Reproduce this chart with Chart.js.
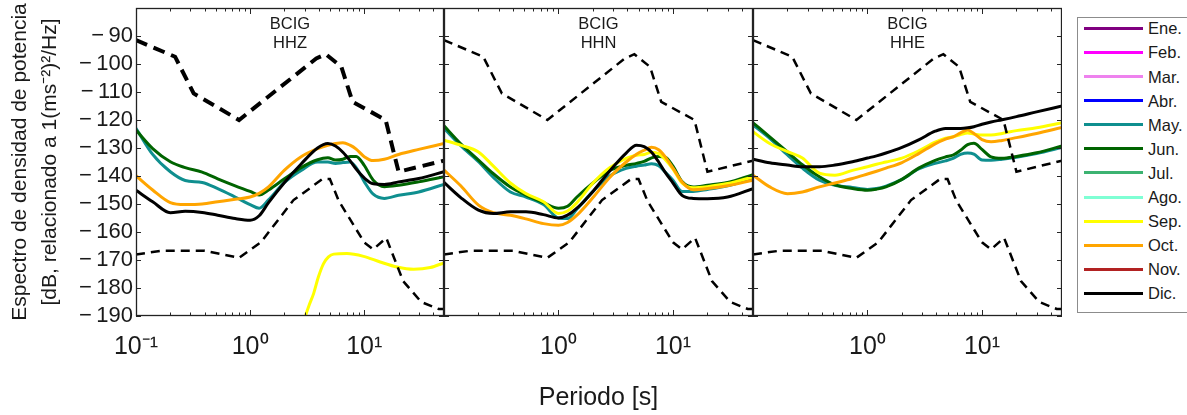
<!DOCTYPE html>
<html><head><meta charset="utf-8">
<script src="https://cdn.jsdelivr.net/npm/chart.js@4.4.1/dist/chart.umd.min.js"></script>
<style>
html,body{margin:0;padding:0;background:#fff;width:1187px;height:415px;overflow:hidden;position:relative;font-family:"Liberation Sans",Arial,sans-serif;}
canvas{position:absolute;top:0;}
#legend{position:absolute;left:1077px;top:17px;width:140px;height:296px;border:1px solid #8c8c8c;box-sizing:border-box;background:#fff;}
.item{position:absolute;left:0;height:24px;width:140px;}
.sw{position:absolute;left:6px;top:10.5px;width:59px;height:3px;}
.lb{position:absolute;left:70px;top:0;line-height:24px;font-size:16.5px;color:#1a1a1a;}
</style></head><body>
<canvas id="c1" width="444" height="415" style="left:0"></canvas>
<canvas id="c2" width="309" height="415" style="left:444px"></canvas>
<canvas id="c3" width="309" height="415" style="left:753px"></canvas>
<div id="legend"></div>
<script>
// ---------- data ----------
const months = ['Ene.','Feb.','Mar.','Abr.','May.','Jun.','Jul.','Ago.','Sep.','Oct.','Nov.','Dic.'];
const monthColors = ['#800080','#ff00ff','#ee82ee','#0000ff','#0f8f8f','#006400','#3cb371','#7fffd4','#ffff00','#ffa500','#b22222','#000000'];

const periods = [0.1, 0.14, 0.2, 0.27, 0.38, 0.52, 0.74, 1.0, 1.2, 1.45, 2.0, 2.8, 3.9, 4.8, 5.6, 6.5, 7.5, 8.5, 10, 12, 15, 20, 30, 50];

// HHZ
const hhzMay = [-123, -132.3, -138.5, -141.6, -142.3, -144.5, -147.5, -150.2, -151.5, -148.5, -142.3, -138, -135, -135, -135.5, -135.2, -135, -137, -142, -146.5, -148, -146.9, -145.7, -143];
const hhzJun = [-123.6, -130.2, -134.9, -137, -138.6, -141, -143.5, -145.5, -146.8, -145, -141, -137, -134.2, -133.5, -134.3, -134, -133, -133, -136.2, -141.5, -143.8, -143.3, -142.1, -140.3];
const hhzSepPeriods = [2.9, 3.03, 3.3, 3.6, 3.97, 4.4, 4.86, 5.4, 7.05, 9.87, 13.8, 19.4, 27.1, 37.9, 50];
const hhzSep = [-193, -190.4, -186, -182, -176, -171.3, -168.9, -167.9, -167.7, -168.7, -170.7, -172.5, -173.3, -172.7, -171];
const hhzOct = [-139.9, -145, -149.5, -150.2, -150, -149.2, -148.3, -147.5, -146.2, -143.9, -137.9, -133.1, -130.2, -129, -128.4, -128.1, -129, -130.4, -133.1, -134.5, -134, -132.3, -130.5, -128.4];
const hhzDic = [-145.1, -149.2, -153.1, -152.6, -153, -154, -155.2, -155.8, -154.2, -149.5, -142.3, -135.7, -130, -128.4, -129.3, -131.5, -134.5, -137.5, -140.7, -142.8, -143, -142.1, -140.9, -138.5];

// HHN
const hhnMay = [-123, -129.2, -134.9, -140.5, -145.7, -147.5, -150.2, -155, -155.2, -151.8, -145.5, -140, -137.3, -136.5, -136.1, -135.6, -136.3, -138.5, -141.5, -145.5, -145.5, -144.8, -143.5, -140.9];
const hhnJun = [-122.1, -128.5, -134.3, -139.2, -143.9, -146.8, -149.5, -151.5, -150.8, -147.5, -142.5, -138, -136.2, -135.5, -134.8, -133.5, -133, -133.2, -136.5, -142, -143.9, -143.3, -142.3, -139.5];
const hhnSep = [-127.2, -129, -131.4, -136.5, -142.5, -146.3, -149.2, -153.4, -152.5, -149.5, -142.5, -137, -133.7, -132.6, -132.3, -131.5, -132, -134, -137.5, -142.5, -144.2, -143.8, -142.7, -140.3];
const hhnOct = [-137.9, -143.5, -150.4, -153.1, -154, -155.3, -157, -157.6, -156.6, -154, -147.7, -140.5, -135, -132.2, -130.8, -129.7, -130.6, -133, -137.2, -142.1, -144.9, -144.5, -143.5, -141.5];
const hhnDic = [-142.3, -147.7, -152.2, -153.4, -152.8, -152.8, -153.8, -155, -154, -151.5, -145.5, -138.2, -131.8, -129, -129.5, -131.5, -135, -138.5, -142.5, -146.9, -148, -148.1, -147.5, -144.5];

// HHE
const hheMay = [-121.8, -126.6, -132.5, -137.2, -141.5, -143.3, -144.1, -144.8, -144.5, -143.6, -141.2, -137.5, -135.5, -134.6, -133.7, -132.3, -131.8, -132.2, -134.3, -134.4, -134, -133.3, -132, -129.8];
const hheJun = [-121, -126, -131.4, -136, -140.3, -143.2, -144.5, -145.1, -144.7, -143.9, -141.2, -137.2, -134.4, -133.2, -132.5, -130.8, -128.8, -128.3, -130.5, -133.2, -133.7, -133, -131.7, -129.3];
const hheSep = [-124.2, -128.4, -131.3, -133.6, -139, -139.7, -138, -136.7, -135.8, -135, -133.6, -131, -127.9, -126.5, -126, -125.2, -124.6, -125, -125.4, -125.4, -124.8, -123.8, -122.8, -121];
const hheOct = [-139.7, -143.9, -146.3, -145.7, -143.9, -142.5, -140.9, -139.3, -138.3, -137.2, -135.2, -132, -128.5, -126.8, -126, -124.6, -123.6, -124.8, -127, -127.8, -127.3, -126.3, -124.8, -122.7];
const hheDic = [-134, -135.3, -136.1, -136.7, -136.7, -136.1, -134.9, -133.6, -132.8, -131.8, -129.8, -127.1, -124, -123, -123, -123, -122.8, -122.4, -121.5, -120.7, -119.9, -118.8, -117.1, -115];

// Noise models (upper / lower)
const nhnmPeriods = [0.1, 0.22, 0.32, 0.8, 3.8, 4.6, 6.3, 7.9, 15.4, 20, 50];
const nhnmValues = [-91.5, -97.4, -110.5, -120.0, -98.0, -96.5, -101.0, -113.5, -120.0, -138.5, -134.5];
const nlnmPeriods = [0.1, 0.17, 0.4, 0.8, 1.24, 2.4, 4.3, 5.0, 6.0, 10, 12, 15.6, 21.9, 31.6, 45, 50];
const nlnmValues = [-168.0, -166.7, -166.7, -169.2, -163.7, -148.6, -141.1, -141.1, -149.0, -163.7, -166.2, -162.1, -177.5, -185.0, -187.5, -187.5];

const xTickValues = [0.1, 1, 10];
const xTickLabels = ['10\u207B\u00B9', '10\u2070', '10\u00B9'];
const yTickValues = [-90, -100, -110, -120, -130, -140, -150, -160, -170, -180, -190];
const panelTitles = [['BCIG','HHZ'], ['BCIG','HHN'], ['BCIG','HHE']];
const yTitle = ['Espectro de densidad de potencia', '[dB, relacionado a 1(ms\u207B\u00B2)\u00B2/Hz]'];
const xTitle = 'Periodo [s]';

// ---------- helpers ----------
const FONT = '"Liberation Sans", Arial, sans-serif';
const TXT = '#1a1a1a';
const zip = (xs, ys) => xs.map((x, i) => ({x, y: ys[i]}));
const colorOf = m => monthColors[months.indexOf(m)];

function monthSet(label, xs, ys, order) {
  return {label, data: zip(xs, ys), borderColor: colorOf(label), backgroundColor: colorOf(label),
    borderWidth: 3, pointRadius: 0, cubicInterpolationMode: 'monotone', clip: 0, order, fill: false};
}
function modelSet(label, xs, ys, width, dash) {
  return {label, data: zip(xs, ys), borderColor: '#000', borderWidth: width, borderDash: dash,
    pointRadius: 0, tension: 0, clip: 0, order: 0, fill: false};
}

const framePlugin = {
  id: 'frame',
  afterDatasetsDraw(chart, args, opts) {
    const {ctx, chartArea: a, scales: {x, y}} = chart;
    ctx.save();
    ctx.strokeStyle = '#262626';
    ctx.lineWidth = 1;
    ctx.beginPath();
    for (let d = 0.1; d < 100; d *= 10) {
      for (let m = 1; m < 10; m++) {
        const v = d * m;
        if (v < x.min * 0.999 || v > x.max * 1.001) continue;
        const px = Math.round(x.getPixelForValue(v)) + 0.5;
        const len = m === 1 ? 6 : 3.5;
        ctx.moveTo(px, a.bottom); ctx.lineTo(px, a.bottom - len);
        ctx.moveTo(px, a.top); ctx.lineTo(px, a.top + len);
      }
    }
    for (let v = y.min; v <= y.max; v += 10) {
      const py = Math.round(y.getPixelForValue(v)) + 0.5;
      ctx.moveTo(a.left, py); ctx.lineTo(a.left + 5, py);
      ctx.moveTo(a.right, py); ctx.lineTo(a.right - 5, py);
    }
    ctx.stroke();
    ctx.lineWidth = 1.3;
    ctx.strokeStyle = '#222';
    ctx.strokeRect(a.left + 0.5, a.top + 0.5, a.width - 1, a.height - 1);
    ctx.fillStyle = TXT;
    ctx.font = '16.5px ' + FONT;
    ctx.textAlign = 'center';
    ctx.textBaseline = 'middle';
    const cx = (a.left + a.right) / 2;
    opts.lines.forEach((t, i) => ctx.fillText(t, cx, a.top + 16 + i * 19));
    ctx.restore();
  }
};

function makePanel(id, idx, sets, showY) {
  const ticks = idx === 0 ? xTickValues : xTickValues.slice(1);
  return new Chart(document.getElementById(id), {
    type: 'line',
    data: {datasets: sets},
    plugins: [framePlugin],
    options: {
      responsive: false, animation: false, events: [],
      layout: {padding: {top: 8, left: 0, right: 0, bottom: 0}},
      plugins: {legend: {display: false}, tooltip: {enabled: false}, frame: {lines: panelTitles[idx]}},
      scales: {
        x: {
          type: 'logarithmic', min: 0.1, max: 50,
          afterBuildTicks: s => { s.ticks = ticks.map(v => ({value: v})); },
          afterFit: s => { s.height = 99; s.paddingLeft = 0; s.paddingRight = 0; },
          grid: {display: false, drawTicks: false}, border: {display: false},
          ticks: {font: {family: FONT, size: 25}, color: TXT, padding: 16, maxRotation: 0, autoSkip: false,
            callback: v => xTickLabels[xTickValues.indexOf(v)]},
          title: {display: idx === 1, text: xTitle, color: TXT, font: {family: FONT, size: 25}, padding: {top: 0, bottom: 2}}
        },
        y: {
          display: showY, min: -190, max: -80,
          afterBuildTicks: s => { s.ticks = yTickValues.map(v => ({value: v})); },
          afterFit: s => { if (showY) s.width = 136; s.paddingTop = 0; s.paddingBottom = 0; },
          grid: {display: false, drawTicks: false}, border: {display: false},
          ticks: {font: {family: FONT, size: 22}, color: TXT, padding: 3, callback: v => '\u2212\u2009' + Math.abs(v)},
          title: {display: showY, text: yTitle, color: TXT, font: {family: FONT, size: 21, lineHeight: 1.45}, padding: {top: 5, bottom: 0}}
        }
      }
    }
  });
}

function panelSets(may, jun, sep, sepX, oct, dic, hiWidth, hiDash) {
  return [
    modelSet('NHNM', nhnmPeriods, nhnmValues, hiWidth, hiDash),
    modelSet('NLNM', nlnmPeriods, nlnmValues, 2.5, [9, 6]),
    monthSet('Dic.', periods, dic, 1),
    monthSet('Oct.', periods, oct, 2),
    monthSet('Sep.', sepX, sep, 3),
    monthSet('Jun.', periods, jun, 4),
    monthSet('May.', periods, may, 5)
  ];
}

makePanel('c1', 0, panelSets(hhzMay, hhzJun, hhzSep, hhzSepPeriods, hhzOct, hhzDic, 4, [12, 7]), true);
makePanel('c2', 1, panelSets(hhnMay, hhnJun, hhnSep, periods, hhnOct, hhnDic, 2.5, [9, 6]), false);
makePanel('c3', 2, panelSets(hheMay, hheJun, hheSep, periods, hheOct, hheDic, 2.5, [9, 6]), false);

// legend
const lg = document.getElementById('legend');
months.forEach((m, i) => {
  const row = document.createElement('div');
  row.className = 'item';
  row.style.top = (-1.7 + i * 24.1) + 'px';
  row.innerHTML = '<div class="sw" style="background:' + monthColors[i] + '"></div><div class="lb">' + m + '</div>';
  lg.appendChild(row);
});
</script></body></html>
